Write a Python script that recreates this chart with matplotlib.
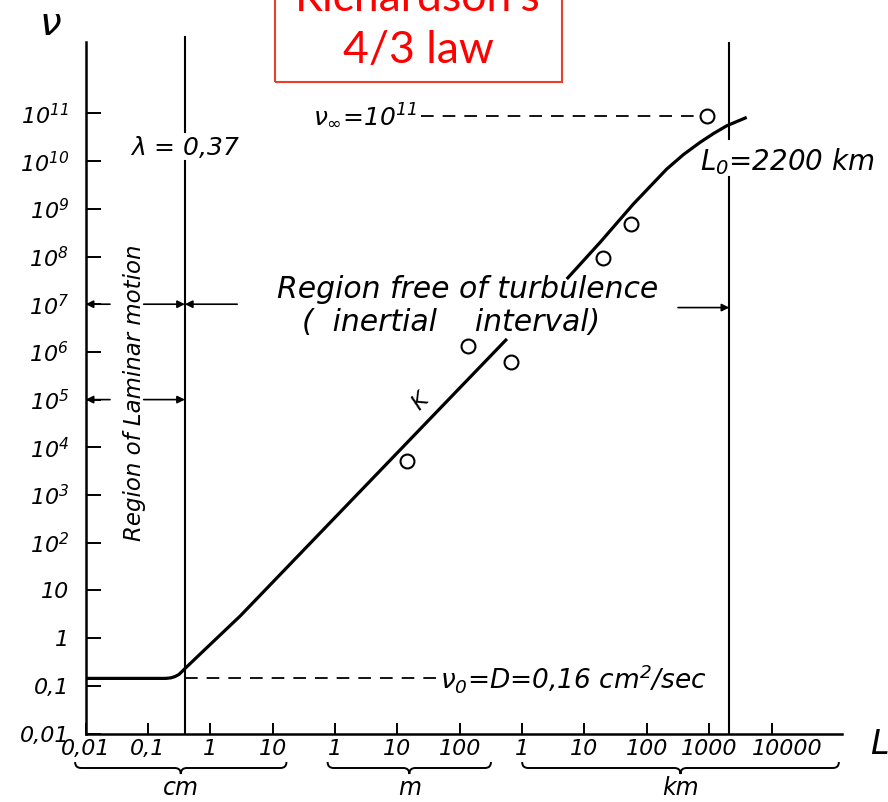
import numpy as np
import matplotlib.pyplot as plt
from matplotlib.path import Path
from matplotlib.patches import PathPatch, Rectangle
from matplotlib.transforms import ScaledTranslation

plt.rcParams['font.family'] = 'DejaVu Sans'
plt.rcParams['font.style'] = 'italic'
plt.rcParams['mathtext.fontset'] = 'custom'
plt.rcParams['mathtext.rm'] = 'DejaVu Sans:italic'
plt.rcParams['mathtext.it'] = 'DejaVu Sans:italic'

# curve: L in cm, nu in cm^2/sec
L_low = [0.01, 0.194, 0.233, 0.270, 0.313, 0.350, 0.391, 0.881, 3.0, 5.7e4]
nu_low = [0.143, 0.143, 0.147, 0.156, 0.173, 0.199, 0.230, 0.634, 2.9,
          1.87e6]
L_up = [5.19e5, 1.78e6, 6.08e6, 2.08e7, 3.86e7, 7.14e7, 1.17e8, 1.91e8,
        4.0e8]
nu_up = [3.37e7, 1.98e8, 1.26e9, 6.8e9, 1.37e10, 2.47e10, 3.78e10, 5.5e10,
         8.26e10]

# observed points (circles)
obs_L = [1.43e3, 1.36e4, 6.6e4, 1.99e6, 5.6e6, 9.3e7]
obs_nu = [5.2e3, 1.33e6, 6.1e5, 9.3e7, 4.8e8, 8.9e10]

lam = 0.39          # lambda line, cm
L0 = 2.1e8          # L0 line, cm (2200 km)
nu0 = 0.143         # nu_0 dashed level
nu_inf = 8.9e10     # nu_inf dashed level

# ticks
x_ticks = [1e-2, 1e-1, 1, 1e1, 1e2, 1e3, 1e4, 1e5, 1e6, 1e7, 1e8, 1e9]
x_labels = ['0,01', '0,1', '1', '10', '1', '10', '100',
            '1', '10', '100', '1000', '10000']
y_ticks = [10.0 ** k for k in range(-2, 12)]
y_labels = ['0,01', '0,1', '1', '10'] + ['$10^{%d}$' % k for k in range(2, 12)]

# unit groups under the x axis
units = ['cm', 'm', 'km']
brace_lo = [10 ** -2.17, 10 ** 1.88, 10 ** 5.0]
brace_hi = [10 ** 1.22, 10 ** 4.5, 10 ** 10.08]

fig = plt.figure(figsize=(8.88, 8.02), dpi=100)
ax = fig.add_axes([85.7 / 888, (802 - 733.5) / 802,
                   (842 - 85.7) / 888, (733.5 - 42) / 802])
ax.set_xscale('log')
ax.set_yscale('log')
ax.set_xlim(1e-2, 10 ** 10.13)
ax.set_ylim(1e-2, 10 ** 12.497)

for s in ['top', 'right']:
    ax.spines[s].set_visible(False)
for s in ['left', 'bottom']:
    ax.spines[s].set_linewidth(1.8)

ax.set_xticks(x_ticks, x_labels)
ax.set_yticks(y_ticks, y_labels)
ax.minorticks_off()
ax.tick_params(axis='y', direction='in', length=11, width=1.4, pad=12,
               labelsize=16)
ax.tick_params(axis='x', direction='in', length=8, width=1.4, pad=4,
               labelsize=16)
# the last label sits right of its tick in the original
last = ax.get_xticklabels()[-1]
last.set_transform(last.get_transform() +
                   ScaledTranslation(16 / 100, 0, fig.dpi_scale_trans))

# main curve (interrupted by the label)
ax.plot(L_low, nu_low, color='black', lw=2.3, solid_capstyle='butt')
ax.plot(L_up, nu_up, color='black', lw=2.3, solid_capstyle='butt')
ax.plot(obs_L, obs_nu, 'o', ms=10, mfc='white', mec='black', mew=1.5)

# vertical boundaries
ax.plot([lam, lam], [1e-2, 10 ** 10.01], color='black', lw=1.5)
ax.plot([lam, lam], [10 ** 10.60, 10 ** 12.61], color='black', lw=1.5,
        clip_on=False)
ax.plot([L0, L0], [1e-2, 10 ** 9.67], color='black', lw=1.5)
ax.plot([L0, L0], [10 ** 10.46, 10 ** 12.47], color='black', lw=1.5)

# dashed levels
ax.plot([lam, 10 ** 3.63], [nu0, nu0], color='black', lw=1.3,
        dashes=(7, 5))
ax.plot([10 ** 3.37, obs_L[-1]], [nu_inf, nu_inf], color='black', lw=1.3,
        dashes=(7, 5), zorder=1)

# dimension arrows
aprops = dict(arrowstyle='-|>', lw=1.2, color='black', mutation_scale=11,
              shrinkA=0, shrinkB=0)
for nu in [1e7, 1e5]:
    ax.annotate('', xy=(1e-2, nu), xytext=(10 ** -1.61, nu), arrowprops=aprops)
    ax.annotate('', xy=(lam, nu), xytext=(10 ** -1.07, nu), arrowprops=aprops)
ax.annotate('', xy=(lam, 1e7), xytext=(10 ** 0.43, 1e7), arrowprops=aprops)
ax.annotate('', xy=(L0, 8.5e6), xytext=(10 ** 7.5, 8.5e6), arrowprops=aprops)

# annotations
ax.text(lam, 10 ** 10.29, r'$\lambda$ = 0,37', ha='center', va='center',
        fontsize=18)
ax.text(10 ** 7.85, 10 ** 10.0, r'$L_0$=2200 km', ha='left', va='center',
        fontsize=20)
ax.text(10 ** 3.31, nu_inf, r'$\nu_\infty$=$10^{11}$', ha='right',
        va='center', fontsize=18)
ax.text(10 ** 3.68, nu0, r'$\nu_0$=D=0,16 cm$^2$/sec', ha='left',
        va='center', fontsize=19)
ax.text(10 ** -1.21, 10 ** 5.14, 'Region of Laminar motion', rotation=90,
        ha='center', va='center', fontsize=16.5)
ax.text(10 ** 4.12, 10 ** 7.30, 'Region free of turbulence', ha='center',
        va='center', fontsize=21.5)
ax.text(10 ** 3.86, 10 ** 6.61, '(  inertial    interval)', ha='center',
        va='center', fontsize=21.5)
ax.text(10 ** 3.36, 10 ** 4.95, 'K', rotation=45, ha='center', va='center',
        fontsize=16)

fig.text(50 / 888, 1 - 24 / 802, r'$\nu$', fontsize=28, ha='center',
         va='center')
fig.text(879 / 888, 1 - 745 / 802, 'L', fontsize=24, ha='center',
         va='center')

# braces with unit names, drawn in pixel space
for name, lo, hi in zip(units, brace_lo, brace_hi):
    x0 = ax.transData.transform((lo, 1))[0]
    x1 = ax.transData.transform((hi, 1))[0]
    xm = (x0 + x1) / 2
    yb = 802 - 768
    h = 6
    verts = [(x0, yb + h), (x0, yb), (x0 + h, yb),
             (xm - h, yb), (xm, yb), (xm, yb - h),
             (xm, yb), (xm + h, yb),
             (x1 - h, yb), (x1, yb), (x1, yb + h)]
    codes = [Path.MOVETO, Path.CURVE3, Path.CURVE3,
             Path.LINETO, Path.CURVE3, Path.CURVE3,
             Path.CURVE3, Path.CURVE3,
             Path.LINETO, Path.CURVE3, Path.CURVE3]
    fig.patches.append(PathPatch(Path(verts, codes), fill=False, lw=1.4,
                                 edgecolor='black', transform=None))
    fig.text(xm / 888, 1 - 788 / 802, name, ha='center', va='center',
             fontsize=17)

# red title box, partly cut at the top
fig.patches.append(Rectangle((275 / 888, 1 - 82 / 802), 287 / 888, 0.2,
                             transform=fig.transFigure, fill=False,
                             edgecolor='#e8402a', lw=1.5))
fig.text(418 / 888, 1 - 11 / 802, "Richardson's", color='red', fontsize=32,
         family='Lato', style='normal', ha='center', va='baseline')
fig.text(418 / 888, 1 - 63 / 802, '4/3 law', color='red', fontsize=32,
         family='Lato', style='normal', ha='center', va='baseline')

fig.savefig('out.png', dpi=100)
